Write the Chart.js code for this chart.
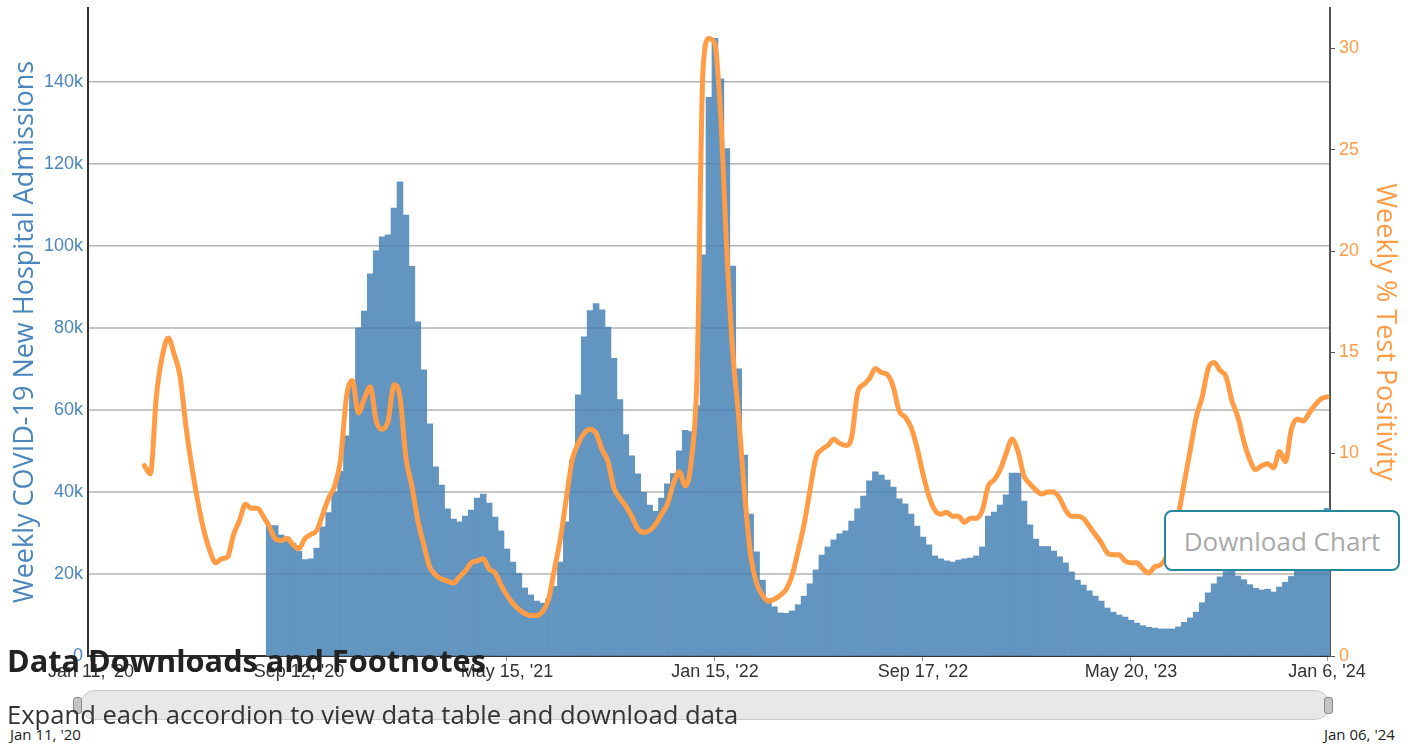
<!DOCTYPE html>
<html>
<head>
<meta charset="utf-8">
<title>Weekly COVID-19 Hospital Admissions and Test Positivity</title>
<script src="https://cdn.jsdelivr.net/npm/chart.js@4.4.1/dist/chart.umd.min.js"></script>
<style>
    html, body { margin: 0; padding: 0; background: #fff; overflow: hidden; }
    body { width: 1413px; height: 744px; position: relative; font-family: 'Open Sans', sans-serif; }
    #chart-wrap { position: absolute; left: 0; top: 0; width: 1413px; height: 700px; }
    #navigator {
        position: absolute; left: 80px; top: 690px; width: 1248px; height: 28px;
        background: #e8e8e8; border: 1px solid #c9c9c9; border-radius: 15px;
    }
    .handle {
        position: absolute; top: 697px; width: 7px; height: 15px;
        background: #c4c4c4; border: 1px solid #8a8a8a; border-radius: 3px;
    }
    .nav-label { position: absolute; top: 727px; font-size: 15px; line-height: 15px; color: #222; }
    #heading {
        position: absolute; left: 7px; top: 645px; margin: 0;
        font-size: 30.7px; line-height: 31px; font-weight: 700; color: #222;
    }
    #subtext {
        position: absolute; left: 7px; top: 702px; margin: 0;
        font-size: 25.6px; line-height: 26px; color: #333;
    }
    #download {
        position: absolute; left: 1164px; top: 510px; width: 232px; height: 57px;
        border: 2px solid #24879a; border-radius: 8px; background: #fff;
        display: flex; align-items: center; justify-content: center;
        font-size: 26px; color: #a9a9a9;
    }
</style>
</head>
<body>
<div id="chart-wrap"><canvas id="chart" width="1413" height="700"></canvas></div>
<div id="navigator"></div>
<div class="handle" style="left: 73px;"></div>
<div class="handle" style="left: 1324px;"></div>
<div class="nav-label" style="left: 10px;">Jan 11, '20</div>
<div class="nav-label" style="left: 1324px;">Jan 06, '24</div>
<h2 id="heading">Data Downloads and Footnotes</h2>
<p id="subtext">Expand each accordion to view data table and download data</p>
<div id="download">Download Chart</div>

<script>
// Weekly COVID-19 hospital admissions (bars) and test positivity (line)

const BAR_COLOR = '#6395c1';
const BLUE_TEXT = '#4b86bd';
const ORANGE = '#ff9c45';
const GRID_COLOR = '#b4b4b4';
const TICK_FONT = { family: "'Liberation Sans', Arial, sans-serif", size: 18 };

// one category per week, week ending Jan 11 2020 through Jan 6 2024
const FIRST_WEEK = '2020-01-11';
const WEEK_COUNT = 209;

const tickWeeks = [0, 35, 70, 105, 140, 175, 208];
const tickLabels = ["Jan 11, '20", "Sep 12, '20", "May 15, '21", "Jan 15, '22",
    "Sep 17, '22", "May 20, '23", "Jan 6, '24"];

const admissionTicks = [0, 20000, 40000, 60000, 80000, 100000, 120000, 140000];
const positivityTicks = [0, 5, 10, 15, 20, 25, 30];

// admissions start with the week of Aug 8 2020 (week 30)
const admissionsStart = 30;
const admissions = [
    31800, 31800, 29500, 29000, 27500, 25500, 23500, 23700, 26300, 31500,
    35000, 40000, 45000, 53700, 66000, 80000, 84100, 93200, 98800, 102200,
    102700, 109200, 115600, 107500, 95000, 81500, 69800, 56600, 46100, 41700,
    35900, 33400, 32700, 34100, 35600, 38500, 39500, 37300, 33900, 30500,
    26100, 22900, 20200, 16600, 14900, 13400, 12900, 14000, 17000, 22900,
    32700, 47800, 63700, 77800, 84200, 85900, 84400, 80200, 72600, 62500,
    54000, 48800, 44400, 39900, 36800, 35300, 38500, 42000, 44500, 50000,
    55000, 54700, 61000, 97800, 136200, 150600, 140700, 123700, 95100, 70000,
    49000, 34600, 25400, 18500, 14000, 12000, 10500, 10400, 11000, 12500,
    14600, 17600, 21000, 24600, 26600, 28300, 29800, 30500, 32900, 35900,
    39000, 42700, 44900, 44100, 42900, 41200, 38300, 37100, 34600, 31700,
    29000, 27100, 24400, 23700, 23200, 22900, 23400, 23700, 23900, 24400,
    26600, 34100, 35100, 36800, 39300, 44600, 44600, 37800, 32000, 28500,
    26700, 26700, 25600, 24200, 22700, 20500, 18500, 17300, 15900, 14600,
    13400, 11700, 10700, 10000, 9500, 8700, 8000, 7400, 7000, 6800,
    6600, 6600, 6600, 7100, 8200, 9300, 10700, 13000, 15400, 17600,
    19300, 20600, 20700, 19500, 18600, 17400, 16500, 16100, 16300, 15600,
    16800, 18000, 19400, 22000, 24500, 27500, 30500, 34000, 36000,
];

// test positivity starts with the week of Mar 14 2020 (week 9)
const positivityStart = 9;
const positivity = [
    9.4, 9.0, 12.8, 14.8, 15.7, 14.9, 13.8, 11.3, 9.3, 7.6,
    6.2, 5.2, 4.6, 4.8, 4.9, 6.0, 6.7, 7.5, 7.3, 7.3,
    6.9, 6.4, 5.8, 5.7, 5.8, 5.5, 5.3, 5.8, 6.0, 6.2,
    7.0, 7.8, 8.4, 9.7, 12.8, 13.6, 12.0, 12.7, 13.3, 11.6,
    11.2, 11.6, 13.4, 12.8, 9.8, 8.4, 6.7, 5.5, 4.4, 4.0,
    3.8, 3.7, 3.6, 3.9, 4.2, 4.6, 4.7, 4.8, 4.3, 4.1,
    3.5, 3.0, 2.6, 2.3, 2.1, 2.0, 2.0, 2.2, 2.8, 4.3,
    5.8, 7.8, 9.7, 10.5, 11.0, 11.2, 11.0, 10.2, 9.6, 8.3,
    7.8, 7.4, 6.9, 6.3, 6.1, 6.2, 6.5, 7.0, 7.5, 8.5,
    9.1, 8.4, 9.6, 14.0, 29.0, 30.5, 30.2, 26.5, 20.0, 15.0,
    11.8, 8.0, 5.0, 3.6, 3.0, 2.7, 2.8, 3.0, 3.3, 4.0,
    5.2, 6.5, 8.2, 9.8, 10.2, 10.4, 10.7, 10.5, 10.4, 10.8,
    13.0, 13.4, 13.7, 14.2, 14.0, 13.9, 13.3, 12.1, 11.8, 11.3,
    10.3, 9.0, 7.9, 7.2, 7.0, 7.1, 6.9, 6.9, 6.6, 6.8,
    6.8, 7.2, 8.4, 8.7, 9.2, 10.0, 10.7, 10.1, 8.9, 8.5,
    8.2, 8.0, 8.1, 8.1, 7.8, 7.2, 6.9, 6.9, 6.8, 6.4,
    6.0, 5.6, 5.1, 5.0, 5.0, 4.7, 4.6, 4.6, 4.3, 4.1,
    4.4, 4.5, 4.9, 5.8, 7.0, 8.6, 10.2, 11.8, 12.8, 14.2,
    14.5, 14.1, 13.8, 12.6, 11.8, 10.6, 9.7, 9.2, 9.4, 9.5,
    9.3, 10.1, 9.6, 11.2, 11.7, 11.6, 12.0, 12.4, 12.7, 12.8,
];

// --- Helpers ---

function weekDates() {
    const out = [];
    const d = new Date(FIRST_WEEK + 'T00:00:00Z');
    for (let i = 0; i < WEEK_COUNT; i++) {
        out.push(d.toISOString().slice(0, 10));
        d.setUTCDate(d.getUTCDate() + 7);
    }
    return out;
}

function padSeries(values, start) {
    const out = new Array(start).fill(null).concat(values);
    while (out.length < WEEK_COUNT) out.push(null);
    return out;
}

function fixedTicks(values) {
    return scale => { scale.ticks = values.map(v => ({ value: v })); };
}

// Horizontal grid drawn after the bars: a faint darkening on top of the bars,
// plain grey behind them everywhere else. The line dataset is drawn later.
const gridThroughBars = {
    id: 'gridThroughBars',
    afterDatasetDraw(chart, args) {
        if (args.index !== 1) return;
        const { ctx, chartArea, scales } = chart;
        const strokeAt = (y) => {
            ctx.beginPath();
            ctx.moveTo(chartArea.left, y);
            ctx.lineTo(chartArea.right, y);
            ctx.stroke();
        };
        ctx.save();
        ctx.lineWidth = 1.5;
        for (const v of admissionTicks.slice(1)) {
            const y = scales.yAdm.getPixelForValue(v);
            ctx.globalCompositeOperation = 'source-atop';
            ctx.strokeStyle = 'rgba(20, 40, 60, 0.13)';
            strokeAt(y);
            ctx.globalCompositeOperation = 'destination-over';
            ctx.strokeStyle = GRID_COLOR;
            strokeAt(y);
        }
        ctx.restore();
    },
};

// --- Chart ---

const ctx = document.getElementById('chart').getContext('2d');

new Chart(ctx, {
    data: {
        labels: weekDates(),
        datasets: [
            {
                type: 'line',
                label: 'Weekly % Test Positivity',
                data: padSeries(positivity, positivityStart),
                yAxisID: 'yPct',
                borderColor: ORANGE,
                borderWidth: 5,
                pointRadius: 0,
                cubicInterpolationMode: 'monotone',
                borderCapStyle: 'round',
                borderJoinStyle: 'round',
                order: 0,
            },
            {
                type: 'bar',
                label: 'Weekly COVID-19 New Hospital Admissions',
                data: padSeries(admissions, admissionsStart),
                yAxisID: 'yAdm',
                backgroundColor: BAR_COLOR,
                barPercentage: 1,
                categoryPercentage: 1,
                order: 1,
            },
        ],
    },
    plugins: [gridThroughBars],
    options: {
        responsive: false,
        animation: false,
        layout: { padding: { top: 8, left: 0, right: 0, bottom: 0 } },
        plugins: {
            legend: { display: false },
            tooltip: { enabled: false },
        },
        scales: {
            x: {
                type: 'category',
                offset: true,
                grid: {
                    offset: false,
                    drawOnChartArea: false,
                    drawTicks: true,
                    tickLength: 5,
                    tickColor: c => tickWeeks.includes(c.index) ? '#999' : 'rgba(0,0,0,0)',
                },
                border: { display: true, color: '#333', width: 2 },
                ticks: {
                    autoSkip: false,
                    maxRotation: 0,
                    padding: 0,
                    color: '#333',
                    font: TICK_FONT,
                    callback: (v, i) => {
                        const k = tickWeeks.indexOf(i);
                        return k >= 0 ? tickLabels[k] : '';
                    },
                },
                afterFit: s => { s.height = 44; },
            },
            yAdm: {
                position: 'left',
                min: 0,
                max: 158000,
                afterBuildTicks: fixedTicks(admissionTicks),
                ticks: {
                    padding: 5,
                    color: BLUE_TEXT,
                    font: TICK_FONT,
                    callback: v => v === 0 ? '0' : (v / 1000) + 'k',
                },
                grid: { drawOnChartArea: false, drawTicks: false },
                border: { color: '#333', width: 2 },
                title: {
                    display: true,
                    text: 'Weekly COVID-19 New Hospital Admissions',
                    color: BLUE_TEXT,
                    font: { family: "'Open Sans', sans-serif", size: 27 },
                    padding: { top: 9, bottom: 0 },
                },
                afterFit: s => { s.width = 88; s.paddingTop = 0; s.paddingBottom = 0; },
            },
            yPct: {
                position: 'right',
                min: 0,
                max: 32,
                afterBuildTicks: fixedTicks(positivityTicks),
                ticks: {
                    padding: 4,
                    color: ORANGE,
                    font: TICK_FONT,
                },
                grid: { drawOnChartArea: false, drawTicks: true, tickLength: 5, tickColor: '#555' },
                border: { color: '#555', width: 2 },
                title: {
                    display: true,
                    text: 'Weekly % Test Positivity',
                    color: ORANGE,
                    font: { family: "'Open Sans', sans-serif", size: 27 },
                    padding: { top: 12, bottom: 0 },
                },
                afterFit: s => { s.width = 83; s.paddingTop = 0; s.paddingBottom = 0; },
            },
        },
    },
});
</script>
</body>
</html>
